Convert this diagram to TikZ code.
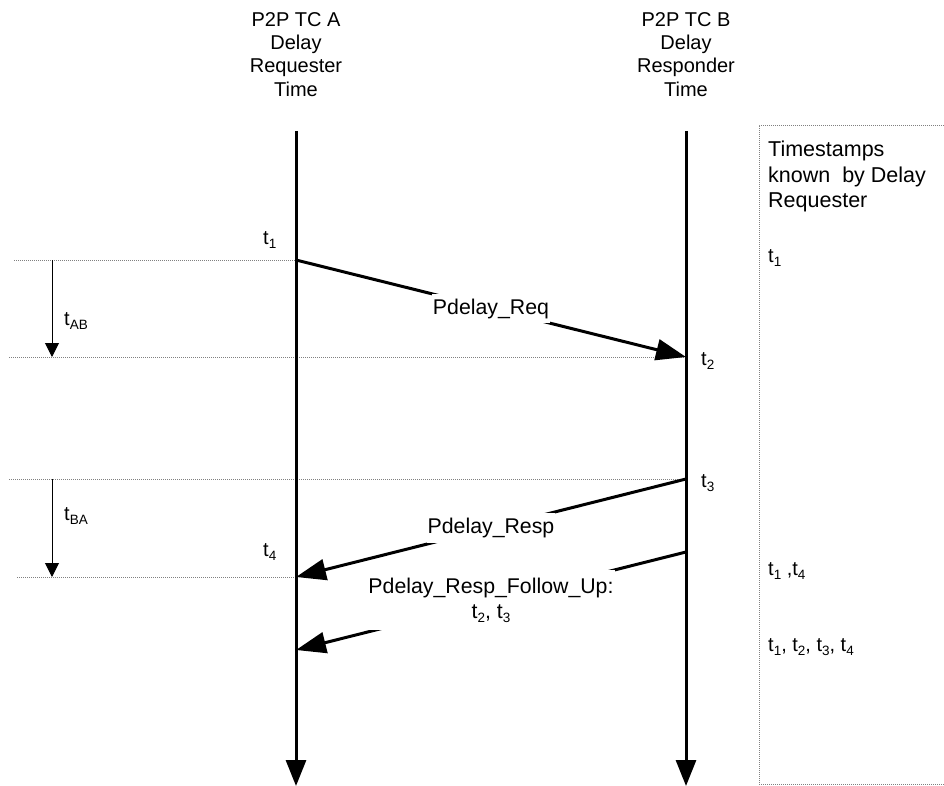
\documentclass[tikz,border=0pt]{standalone}
\usepackage{fontspec}
\setmainfont{Liberation Sans}
\usetikzlibrary{arrows.meta}
\newcommand\tsub[1]{t\raisebox{-4pt}{\fontsize{13.5}{13.5}\selectfont #1}}
\begin{document}
\begin{tikzpicture}[x=1pt,y=-1pt,
  every node/.style={font=\fontsize{20}{23.3}\selectfont, inner sep=0pt},
  timeline/.style={line width=3pt, -{Triangle[length=26pt,width=20pt]}},
  msg/.style={line width=3pt, -{Triangle[length=30pt,width=21pt]}},
  msglabel/.style={fill=white, inner xsep=1pt, inner ysep=5pt, align=center, font=\fontsize{21.3}{25}\selectfont},
  dotline/.style={gray, line width=0.8pt, dash pattern=on 1pt off 1pt},
  interval/.style={line width=1pt, -{Triangle[length=14pt,width=14pt]}},
  title/.style={align=center, anchor=north, font=\fontsize{20}{23.3}\selectfont},
  stamp/.style={anchor=base west},
]
\useasboundingbox (0,0) rectangle (944,786);

% titles
\node[title] (titleA) at (296,12) {P2P TC A\\Delay\\Requester\\Time};
\node[title] (titleB) at (686,12) {P2P TC B\\Delay\\Responder\\Time};

% timeline coordinates
\coordinate (Atop) at (296,131);
\coordinate (Abot) at (296,786);
\coordinate (Btop) at (686,131);
\coordinate (Bbot) at (686,786);
\coordinate (t1A) at (296,260);
\coordinate (t2B) at (686,357);
\coordinate (t3B) at (686,479);
\coordinate (t4A) at (296,577);
\coordinate (fuB) at (686,552);
\coordinate (fuA) at (296,650);

% dotted reference lines
\coordinate (d1) at (14,260);
\coordinate (d2) at (9,357);
\coordinate (d3) at (9,479);
\coordinate (d4) at (17,577);
\draw[dotline] (d1) -- (t1A);
\draw[dotline] (d2) -- (t2B);
\draw[dotline] (d3) -- (t3B);
\draw[dotline] (d4) -- (t4A);

% timelines
\draw[timeline] (Atop) -- (Abot);
\draw[timeline] (Btop) -- (Bbot);

% intervals
\coordinate (iab1) at (52,260);
\coordinate (iab2) at (52,357);
\coordinate (iba1) at (52,479);
\coordinate (iba2) at (52,577);
\draw[interval] (iab1) -- (iab2);
\draw[interval] (iba1) -- (iba2);
\node[stamp] (tab) at (64,325) {\tsub{AB}};
\node[stamp] (tba) at (64,520) {\tsub{BA}};

% messages
\draw[msg] (t1A) -- node[msglabel] (req) {Pdelay\_Req} (t2B);
\draw[msg] (t3B) -- node[msglabel] (resp) {Pdelay\_Resp} (t4A);
\draw[msg] (fuB) -- node[msglabel, inner ysep=8pt, yshift=1pt] (fu) {Pdelay\_Resp\_Follow\_Up:\\\tsub{2}, \tsub{3}} (fuA);

% timestamp labels
\node[stamp] (lt1) at (263,244) {\tsub{1}};
\node[stamp] (lt2) at (701,365) {\tsub{2}};
\node[stamp] (lt3) at (701,487) {\tsub{3}};
\node[stamp] (lt4) at (263,556) {\tsub{4}};

% box of known timestamps
\coordinate (bx1) at (944,125);
\coordinate (bx2) at (759,125);
\coordinate (bx3) at (759,784);
\coordinate (bx4) at (944,784);
\draw[dotline] (bx1) -- (bx2) -- (bx3) -- (bx4);
\node[anchor=north west, align=left, font=\fontsize{21.5}{25.5}\selectfont] (known) at (768,141) {Timestamps\\known\ \ by Delay\\Requester};
\node[stamp] (k1) at (768,262) {\tsub{1}};
\node[stamp] (k2) at (768,575) {\tsub{1} ,\tsub{4}};
\node[stamp] (k3) at (768,651) {\tsub{1}, \tsub{2}, \tsub{3}, \tsub{4}};
\end{tikzpicture}
\end{document}
